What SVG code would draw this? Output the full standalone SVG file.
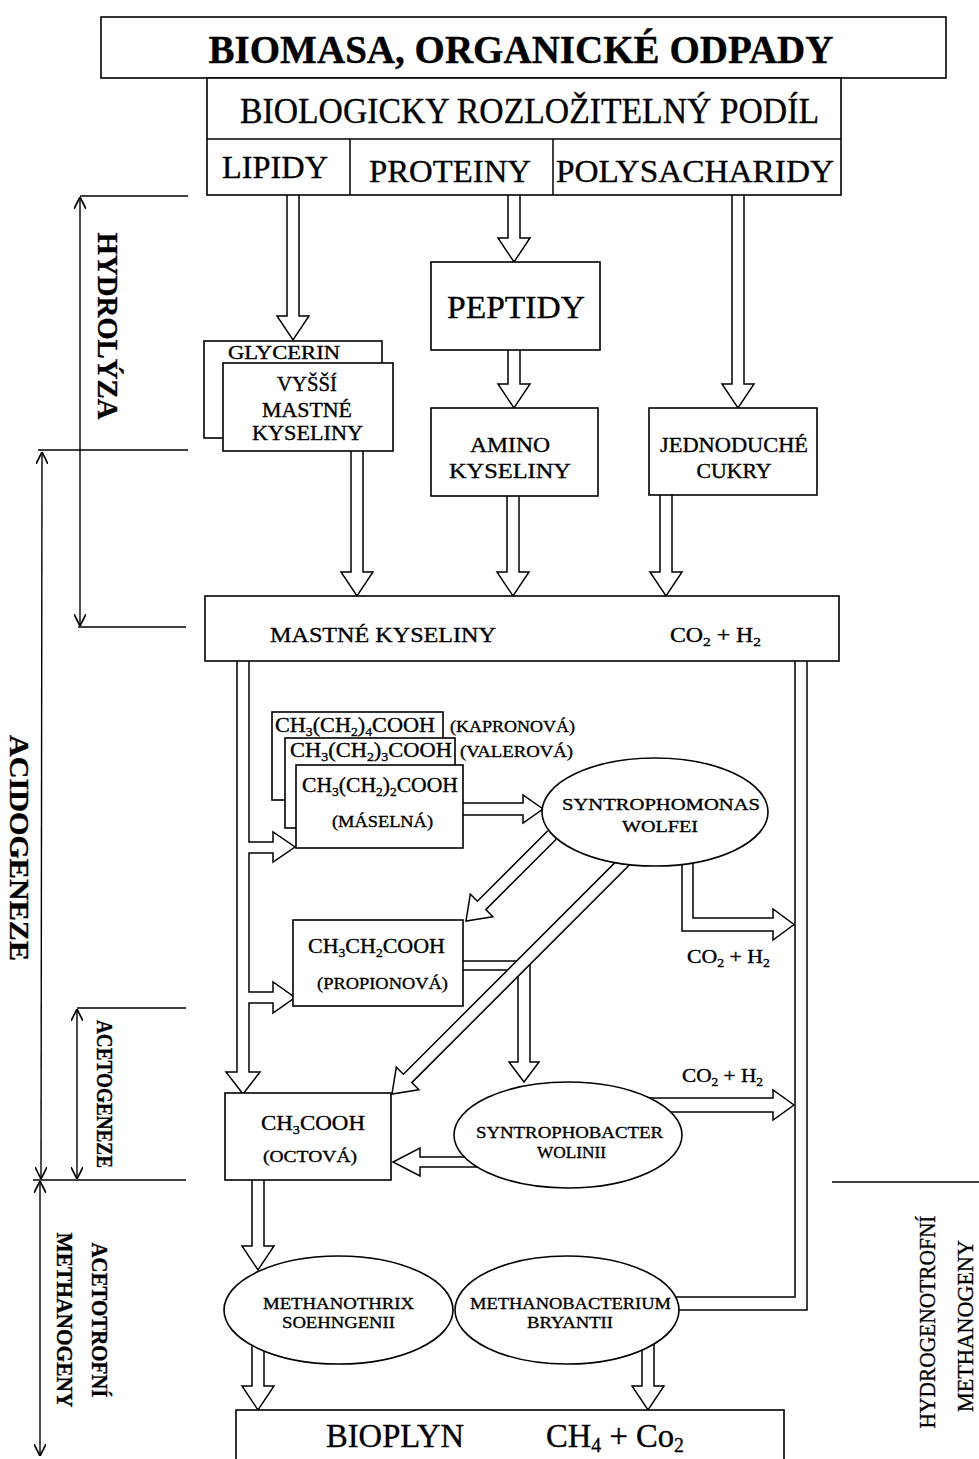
<svg xmlns="http://www.w3.org/2000/svg" width="979" height="1459" viewBox="0 0 979 1459">
<style>
text{font-family:"Liberation Serif","Times New Roman",serif;fill:#000;stroke:#000;stroke-width:0.35}
.n{fill:#fff;stroke:#000;stroke-width:1.6}
.c{fill:#fff;stroke:#000;stroke-width:1.5;stroke-linejoin:miter}
.l{fill:none;stroke:#000;stroke-width:1.5}
.d{fill:none;stroke:#000;stroke-width:1.4}
.m{text-anchor:middle}
.v{font-weight:bold}
</style>
<defs>
<marker id="va" viewBox="0 0 10 10" refX="10" refY="5" markerWidth="12" markerHeight="12" markerUnits="userSpaceOnUse" orient="auto-start-reverse">
<path d="M0,0 L10,5 L0,10" fill="none" stroke="#000" stroke-width="1.4"/>
</marker>
</defs>
<rect width="979" height="1459" fill="#fff"/>

<g id="stages">
<line class="d" x1="80" y1="196" x2="188" y2="196"/>
<line class="d" x1="38" y1="450" x2="188" y2="450"/>
<line class="d" x1="78" y1="627" x2="186" y2="627"/>
<line class="d" x1="77" y1="1008" x2="186" y2="1008"/>
<line class="d" x1="33" y1="1180" x2="186" y2="1180"/>
<line class="d" x1="832" y1="1182" x2="979" y2="1182"/>
<line class="d" x1="80" y1="197" x2="80" y2="626" marker-start="url(#va)" marker-end="url(#va)"/>
<line class="d" x1="42" y1="452" x2="41" y2="1179" marker-start="url(#va)" marker-end="url(#va)"/>
<line class="d" x1="77" y1="1009" x2="77" y2="1179" marker-start="url(#va)" marker-end="url(#va)"/>
<line class="d" x1="40" y1="1181" x2="40" y2="1456" marker-start="url(#va)" marker-end="url(#va)"/>
<text class="m v" transform="translate(108,326) rotate(90)" y="10" font-size="30" textLength="187" lengthAdjust="spacingAndGlyphs">HYDROLÝZA</text>
<text class="m v" transform="translate(19,848) rotate(90)" y="9" font-size="27" textLength="226" lengthAdjust="spacingAndGlyphs">ACIDOGENEZE</text>
<text class="m v" transform="translate(105,1094) rotate(90)" y="8" font-size="24" textLength="148" lengthAdjust="spacingAndGlyphs">ACETOGENEZE</text>
<text class="m v" transform="translate(100,1320) rotate(90)" y="8" font-size="24" textLength="155" lengthAdjust="spacingAndGlyphs">ACETOTROFNÍ</text>
<text class="m v" transform="translate(65,1320) rotate(90)" y="8" font-size="24" textLength="175" lengthAdjust="spacingAndGlyphs">METHANOGENY</text>
<text class="m" transform="translate(927,1322) rotate(-90)" y="8" font-size="24" textLength="213" lengthAdjust="spacingAndGlyphs">HYDROGENOTROFNÍ</text>
<text class="m" transform="translate(965,1326) rotate(-90)" y="8" font-size="24" textLength="172" lengthAdjust="spacingAndGlyphs">METHANOGENY</text>
</g>

<g id="connectors">
<path class="c" d="M287,194 V316 H277 L293,340 L309,316 H299 V194"/>
<path class="c" d="M508,194 V238 H498 L514,262 L530,238 H520 V194"/>
<path class="c" d="M732,194 V384 H722 L738,408 L754,384 H744 V194"/>
<path class="c" d="M508,349 V384 H498 L514,408 L530,384 H520 V349"/>
<path class="c" d="M351,451 V572 H341 L357,596 L373,572 H363 V451"/>
<path class="c" d="M507,495 V572 H497 L513,596 L529,572 H519 V495"/>
<path class="c" d="M660,494 V572 H650 L666,596 L682,572 H672 V494"/>
<path class="c" d="M237,661 V1072 H226 L243,1094 L260,1072 H249 V1003 H273 V1013 L295,997.5 L273,982 V992 H249 V853 H273 V862 L295,847 L273,832 V842 H249 V661"/>
<polyline class="l" points="795,661 795,1297 670,1297"/>
<polyline class="l" points="807,661 807,1310 670,1310"/>
<path class="c" d="M463,803 H523 V795 L543,809 L523,823 V815 H463"/>
<path class="c" d="M682,850 V931 H773 V940 L794,924.5 L773,909 V918 H693 V850"/>
<path class="c" d="M462,961 H530 V1062 H539 L524,1082 L509,1062 H518 V970 H462"/>
<path class="c" d="M556.2,839.2 L485.8,909.6 L492.9,916.7 L466,921 L470.3,894.1 L477.4,901.2 L547.8,830.8"/>
<path class="c" d="M633.1,861.3 L411.8,1082.6 L418.9,1089.7 L392,1094 L396.3,1067.1 L403.4,1074.2 L624.7,852.9"/>
<path class="c" d="M645,1098 H773 V1090 L794,1105 L773,1120 V1112 H645"/>
<path class="c" d="M480,1157 H420 V1148 L393,1162 L420,1176 V1167 H480"/>
<path class="c" d="M252,1179 V1246 H242 L258,1270 L274,1246 H264 V1179"/>
<path class="c" d="M252,1330 V1386 H242 L258,1410 L274,1386 H264 V1330"/>
<path class="c" d="M642,1330 V1386 H632 L648,1410 L664,1386 H654 V1330"/>
</g>

<g id="biomasa">
<rect class="n" x="101" y="17" width="845" height="61"/>
<text class="m" x="521" y="63" font-size="40" font-weight="bold" textLength="625" lengthAdjust="spacingAndGlyphs">BIOMASA, ORGANICKÉ ODPADY</text>
</g>
<g id="podil">
<rect class="n" x="207" y="78" width="634" height="117"/>
<line class="l" x1="207" y1="139" x2="841" y2="139"/>
<line class="l" x1="350" y1="139" x2="350" y2="195"/>
<line class="l" x1="553" y1="139" x2="553" y2="195"/>
<text class="m" x="529.5" y="123" font-size="35" textLength="579" lengthAdjust="spacingAndGlyphs">BIOLOGICKY ROZLOŽITELNÝ PODÍL</text>
</g>
<g id="lipidy"><text class="m" x="275" y="178" font-size="32" textLength="106" lengthAdjust="spacingAndGlyphs">LIPIDY</text></g>
<g id="proteiny"><text class="m" x="450" y="182" font-size="32" textLength="162" lengthAdjust="spacingAndGlyphs">PROTEINY</text></g>
<g id="polysacharidy"><text class="m" x="695" y="182" font-size="32" textLength="278" lengthAdjust="spacingAndGlyphs">POLYSACHARIDY</text></g>

<g id="peptidy">
<rect class="n" x="431" y="262" width="169" height="88"/>
<text class="m" x="516" y="318" font-size="32" textLength="138" lengthAdjust="spacingAndGlyphs">PEPTIDY</text>
</g>
<g id="glycerin">
<rect class="n" x="204" y="341" width="178" height="97"/>
<text x="228" y="359" font-size="19" textLength="112" lengthAdjust="spacingAndGlyphs">GLYCERIN</text>
</g>
<g id="vyssi">
<rect class="n" x="223" y="363" width="170" height="88"/>
<text class="m" x="307" y="391" font-size="20" textLength="60" lengthAdjust="spacingAndGlyphs">VYŠŠÍ</text>
<text class="m" x="307" y="417" font-size="20" textLength="90" lengthAdjust="spacingAndGlyphs">MASTNÉ</text>
<text class="m" x="307.5" y="440" font-size="20" textLength="111" lengthAdjust="spacingAndGlyphs">KYSELINY</text>
</g>
<g id="amino">
<rect class="n" x="431" y="408" width="167" height="88"/>
<text class="m" x="510" y="452" font-size="21" textLength="80" lengthAdjust="spacingAndGlyphs">AMINO</text>
<text class="m" x="510" y="478" font-size="21" textLength="122" lengthAdjust="spacingAndGlyphs">KYSELINY</text>
</g>
<g id="cukry">
<rect class="n" x="649" y="408" width="168" height="87"/>
<text class="m" x="734" y="452" font-size="20" textLength="148" lengthAdjust="spacingAndGlyphs">JEDNODUCHÉ</text>
<text class="m" x="734" y="478" font-size="20" textLength="75" lengthAdjust="spacingAndGlyphs">CUKRY</text>
</g>
<g id="mastne">
<rect class="n" x="205" y="596" width="634" height="65"/>
<text x="270" y="642" font-size="22" textLength="226" lengthAdjust="spacingAndGlyphs">MASTNÉ KYSELINY</text>
<text x="670" y="642" font-size="20" textLength="91" lengthAdjust="spacingAndGlyphs">CO<tspan dy="4" font-size="13">2</tspan><tspan dy="-4"> + H</tspan><tspan dy="4" font-size="13">2</tspan></text>
</g>

<g id="kapronova">
<rect class="n" x="272" y="712" width="171" height="88"/>
<text x="275" y="732" font-size="21" textLength="160" lengthAdjust="spacingAndGlyphs">CH<tspan dy="4" font-size="13">3</tspan><tspan dy="-4">(CH</tspan><tspan dy="4" font-size="13">2</tspan><tspan dy="-4">)</tspan><tspan dy="4" font-size="13">4</tspan><tspan dy="-4">COOH</tspan></text>
<text x="450" y="732" font-size="16" textLength="125" lengthAdjust="spacingAndGlyphs">(KAPRONOVÁ)</text>
</g>
<g id="valerova">
<rect class="n" x="285" y="738" width="170" height="90"/>
<text x="290" y="757" font-size="21" textLength="162" lengthAdjust="spacingAndGlyphs">CH<tspan dy="4" font-size="13">3</tspan><tspan dy="-4">(CH</tspan><tspan dy="4" font-size="13">2</tspan><tspan dy="-4">)</tspan><tspan dy="4" font-size="13">3</tspan><tspan dy="-4">COOH</tspan></text>
<text x="460" y="757" font-size="16" textLength="113" lengthAdjust="spacingAndGlyphs">(VALEROVÁ)</text>
</g>
<g id="maselna">
<rect class="n" x="296" y="765" width="167" height="83"/>
<text x="302" y="792" font-size="21" textLength="156" lengthAdjust="spacingAndGlyphs">CH<tspan dy="4" font-size="13">3</tspan><tspan dy="-4">(CH</tspan><tspan dy="4" font-size="13">2</tspan><tspan dy="-4">)</tspan><tspan dy="4" font-size="13">2</tspan><tspan dy="-4">COOH</tspan></text>
<text x="332" y="827" font-size="16" textLength="101" lengthAdjust="spacingAndGlyphs">(MÁSELNÁ)</text>
</g>
<g id="syntrophomonas">
<ellipse class="n" cx="655" cy="812" rx="113" ry="54"/>
<text class="m" x="661" y="810" font-size="17" textLength="198" lengthAdjust="spacingAndGlyphs">SYNTROPHOMONAS</text>
<text class="m" x="660" y="832" font-size="17" textLength="76" lengthAdjust="spacingAndGlyphs">WOLFEI</text>
</g>
<g id="co2h2-a">
<text x="687" y="963" font-size="19" textLength="83" lengthAdjust="spacingAndGlyphs">CO<tspan dy="4" font-size="12">2</tspan><tspan dy="-4"> + H</tspan><tspan dy="4" font-size="12">2</tspan></text>
</g>
<g id="propionova">
<rect class="n" x="293" y="920" width="170" height="86"/>
<text x="308" y="953" font-size="21" textLength="137" lengthAdjust="spacingAndGlyphs">CH<tspan dy="4" font-size="13">3</tspan><tspan dy="-4">CH</tspan><tspan dy="4" font-size="13">2</tspan><tspan dy="-4">COOH</tspan></text>
<text x="317" y="989" font-size="17" textLength="131" lengthAdjust="spacingAndGlyphs">(PROPIONOVÁ)</text>
</g>
<g id="co2h2-b">
<text x="682" y="1082" font-size="19" textLength="81" lengthAdjust="spacingAndGlyphs">CO<tspan dy="4" font-size="12">2</tspan><tspan dy="-4"> + H</tspan><tspan dy="4" font-size="12">2</tspan></text>
</g>
<g id="octova">
<rect class="n" x="225" y="1093" width="166" height="87"/>
<text x="261" y="1130" font-size="21" textLength="104" lengthAdjust="spacingAndGlyphs">CH<tspan dy="4" font-size="13">3</tspan><tspan dy="-4">COOH</tspan></text>
<text x="263" y="1162" font-size="17" textLength="94" lengthAdjust="spacingAndGlyphs">(OCTOVÁ)</text>
</g>
<g id="syntrophobacter">
<ellipse class="n" cx="568" cy="1135" rx="114" ry="53"/>
<text class="m" x="569.5" y="1138" font-size="16" textLength="187" lengthAdjust="spacingAndGlyphs">SYNTROPHOBACTER</text>
<text class="m" x="571.5" y="1158" font-size="16" textLength="69" lengthAdjust="spacingAndGlyphs">WOLINII</text>
</g>
<g id="methanothrix">
<ellipse class="n" cx="338.5" cy="1310" rx="114.5" ry="54"/>
<text class="m" x="338.5" y="1309" font-size="16" textLength="151" lengthAdjust="spacingAndGlyphs">METHANOTHRIX</text>
<text class="m" x="338.5" y="1328" font-size="16" textLength="113" lengthAdjust="spacingAndGlyphs">SOEHNGENII</text>
</g>
<g id="methanobacterium">
<ellipse class="n" cx="567" cy="1310" rx="112" ry="54"/>
<text class="m" x="570.5" y="1309" font-size="16" textLength="201" lengthAdjust="spacingAndGlyphs">METHANOBACTERIUM</text>
<text class="m" x="570" y="1328" font-size="16" textLength="86" lengthAdjust="spacingAndGlyphs">BRYANTII</text>
</g>
<g id="bioplyn">
<rect class="n" x="236" y="1410" width="548" height="70"/>
<text x="326" y="1447" font-size="33" textLength="138" lengthAdjust="spacingAndGlyphs">BIOPLYN</text>
<text x="546" y="1447" font-size="33" textLength="138" lengthAdjust="spacingAndGlyphs">CH<tspan dy="5" font-size="20">4</tspan><tspan dy="-5"> + Co</tspan><tspan dy="5" font-size="20">2</tspan></text>
</g>
</svg>
